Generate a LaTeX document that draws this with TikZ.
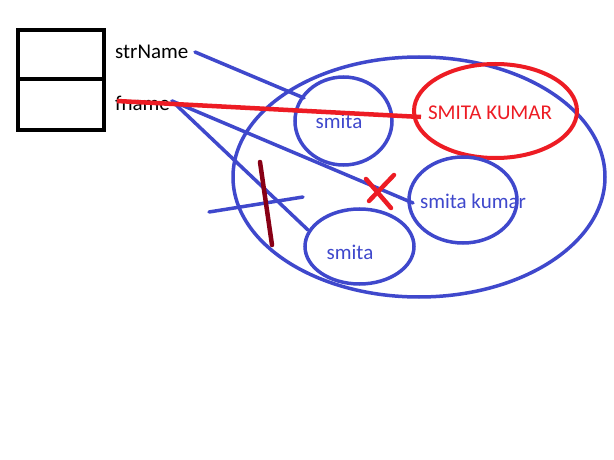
\documentclass[tikz,border=0pt]{standalone}
\usepackage{fontspec}
\setmainfont{Carlito}
\usetikzlibrary{shapes.geometric}
\definecolor{pblue}{HTML}{3F48CC}
\definecolor{pred}{HTML}{ED1C24}
\definecolor{pmaroon}{HTML}{880015}
\begin{document}
\begin{tikzpicture}[x=1pt,y=-1pt,
  bl/.style={draw=pblue,line width=3.5pt},
  rd/.style={draw=pred,line width=4.5pt},
  oval/.style={ellipse,inner sep=0pt},
  lbl/.style={inner sep=0pt,font=\fontsize{21}{21}\selectfont},
  blbl/.style={lbl,text=pblue},
  ]
\useasboundingbox[fill=white] (0,0) rectangle (614,460);
% record box
\draw[line width=4pt] (18,30) rectangle (104,130);
\draw[line width=4pt] (18,79) -- (104,79);
\node[lbl,anchor=west] (strname) at (115,52) {strName};
\node[lbl,anchor=west] (fname) at (115,103) {fname};
% ellipses
\node[oval,draw=pblue,line width=3.5pt,minimum width=372pt,minimum height=240pt] (big) at (419,177) {};
\node[oval,draw=pblue,line width=3.5pt,minimum width=97pt,minimum height=88pt] (e1) at (343.5,121) {};
\node[oval,draw=pred,line width=4pt,minimum width=163pt,minimum height=94pt] (e2) at (495.5,111) {};
\node[oval,draw=pblue,line width=3.5pt,minimum width=108pt,minimum height=86pt] (e3) at (463,200) {};
\node[oval,draw=pblue,line width=3.5pt,minimum width=109pt,minimum height=75pt] (e4) at (359.5,246.5) {};
% labels
\node[blbl] (t1) at (339,121) {smita};
\node[lbl,text=pred] (t2) at (490,113) {SMITA KUMAR};
\node[blbl] (t3) at (473,201) {smita kumar};
\node[blbl] (t4) at (350,252) {smita};
% connector end points
\coordinate (s1) at (195,52);
\coordinate (e1in) at (304,98);
\coordinate (f1) at (172,101);
\coordinate (e3in) at (413,203);
\coordinate (e4in) at (308,230);
\coordinate (r0) at (117,101);
\coordinate (e2in) at (421,117);
\draw[bl,line cap=round] (s1) -- (e1in);
\draw[bl,line cap=round] (f1) -- (e3in);
\draw[bl,line cap=round] (f1) -- (e4in);
\draw[rd] (r0) -- (e2in);
% strike marks
\coordinate (c1) at (209,212);
\coordinate (c2) at (303,197);
\draw[bl,line cap=round] (c1) -- (c2);
\coordinate (m1) at (260,162);
\coordinate (m2) at (272,245);
\draw[draw=pmaroon,line width=4.5pt,line cap=round] (m1) -- (m2);
\coordinate (x1) at (366,179);
\coordinate (x2) at (391,208);
\coordinate (x3) at (394,175);
\coordinate (x4) at (369,201);
\draw[rd,line cap=round] (x1) -- (x2);
\draw[rd,line cap=round] (x3) -- (x4);
\end{tikzpicture}
\end{document}
